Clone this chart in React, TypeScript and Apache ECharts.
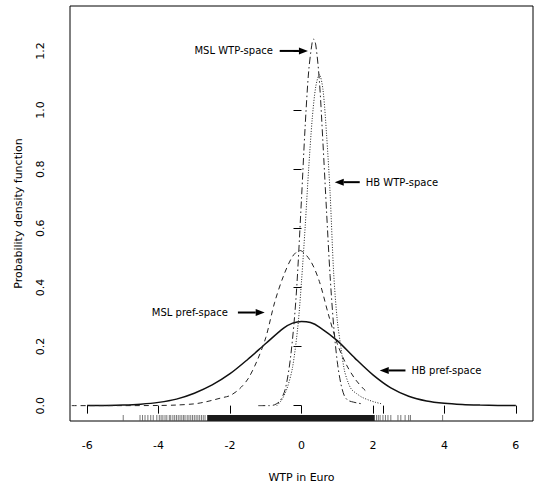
import React, { useEffect, useRef } from "react";
import * as echarts from "echarts";

// Axis ticks
const xTickValues = [-6, -4, -2, 0, 2, 4, 6];
const xExtraTick = [2.28];
const yTickValues = [0, 0.2, 0.4, 0.6, 0.8, 1.0, 1.2];
const xRange = [-6.48, 6.48];
const yRange = [-0.052, 1.352];

// Density curves [x, density]
const hbPrefSpace: number[][] = [
  [-6, 0.0003], [-5.5, 0.0008], [-5, 0.002], [-4.5, 0.005], [-4, 0.011], [-3.5, 0.022],
  [-3, 0.042], [-2.5, 0.07], [-2, 0.108], [-1.5, 0.157], [-1, 0.21], [-0.5, 0.262],
  [-0.25, 0.279], [0, 0.285], [0.25, 0.281], [0.5, 0.266], [1, 0.22], [1.5, 0.16],
  [2, 0.104], [2.5, 0.06], [3, 0.032], [3.5, 0.016], [4, 0.008], [4.5, 0.004],
  [5, 0.002], [5.5, 0.0008], [6, 0.0003],
];
const mslPrefSpace: number[][] = [
  [-6.43, 0], [-5, 0], [-4, 0.0005], [-3.5, 0.002], [-3, 0.006], [-2.75, 0.011],
  [-2.5, 0.018], [-2.25, 0.026], [-2, 0.034], [-1.75, 0.055], [-1.5, 0.09], [-1.25, 0.15],
  [-1, 0.23], [-0.75, 0.35], [-0.5, 0.44], [-0.25, 0.505], [-0.05, 0.525], [0.25, 0.49],
  [0.5, 0.42], [0.75, 0.31], [1, 0.21], [1.25, 0.14], [1.5, 0.09], [1.75, 0.055], [1.85, 0.045],
];
const mslWtpSpace: number[][] = [
  [-1.21, 0], [-0.9, 0], [-0.75, 0.003], [-0.6, 0.016], [-0.45, 0.058], [-0.3, 0.17],
  [-0.15, 0.37], [0, 0.7], [0.1, 0.94], [0.2, 1.13], [0.3, 1.23], [0.34, 1.24], [0.4, 1.22],
  [0.5, 1.1], [0.6, 0.89], [0.7, 0.66], [0.8, 0.44], [0.9, 0.27], [1.0, 0.15], [1.1, 0.075],
  [1.2, 0.033], [1.3, 0.018], [1.45, 0.012], [1.6, 0.008], [1.7, 0.006],
];
const hbWtpSpace: number[][] = [
  [-0.69, 0], [-0.55, 0.02], [-0.4, 0.06], [-0.25, 0.13], [-0.1, 0.27], [0, 0.42],
  [0.1, 0.6], [0.2, 0.8], [0.3, 0.97], [0.4, 1.08], [0.5, 1.12], [0.6, 1.07], [0.7, 0.92],
  [0.8, 0.72], [0.9, 0.45], [1.0, 0.29], [1.1, 0.2], [1.2, 0.12], [1.3, 0.08], [1.4, 0.055],
  [1.55, 0.04], [1.7, 0.028], [1.9, 0.018], [2.05, 0.012], [2.25, 0.006],
];

// Rug of observed WTP values
const rugSparse = [
  -4.99, -4.52, -4.45, -4.38, -4.3, -4.22, -4.15, -4.05, -3.98, -3.93, -3.88, -3.82, -3.77,
  -3.7, -3.66, -3.6, -3.55, -3.5, -3.45, -3.4, -3.35, -3.3, -3.26, -3.2, -3.15, -3.1, -3.05,
  -3.0, -2.95, -2.9, -2.85, -2.8, -2.75, -2.7, 2.1, 2.15, 2.2, 2.28, 2.35, 2.42, 2.5, 2.7,
  2.78, 2.9, 3.0, 3.05, 3.95,
];
const rugDenseBand = [[-2.64, 2.05]];

// Annotations (data coordinates)
const annotations = [
  { label: "MSL WTP-space", y: 1.2, textX: -0.8, from: -0.61, to: 0.18, side: "left" },
  { label: "HB WTP-space", y: 0.756, textX: 1.8, from: 1.63, to: 0.93, side: "right" },
  { label: "MSL pref-space", y: 0.315, textX: -2.06, from: -1.78, to: -1.03, side: "left" },
  { label: "HB pref-space", y: 0.119, textX: 3.08, from: 2.91, to: 2.19, side: "right" },
];

const FONT = '"DejaVu Sans", Verdana, sans-serif';

export default function App() {
  const ref = useRef<HTMLDivElement>(null);
  useEffect(() => {
    if (!ref.current) return;
    const chart = echarts.init(ref.current, undefined, { renderer: "svg" });
    const lineBase = {
      type: "line",
      showSymbol: false,
      smooth: 0.3,
      silent: true,
      clip: true,
    };
    chart.setOption({
      animation: false,
      backgroundColor: "#fff",
      grid: {
        left: 70, right: 1, top: 6, bottom: 67,
        show: true, borderColor: "#000", borderWidth: 1,
      },
      xAxis: {
        type: "value",
        min: xRange[0], max: xRange[1],
        name: "WTP in Euro",
        nameLocation: "middle",
        nameGap: 51,
        nameTextStyle: { fontFamily: FONT, fontSize: 11, color: "#000" },
        axisLine: { show: false },
        splitLine: { show: false },
        axisTick: {
          show: true, inside: false, length: 8,
          customValues: [...xTickValues, ...xExtraTick],
          lineStyle: { color: "#000", width: 1 },
        },
        axisLabel: {
          customValues: xTickValues,
          margin: 19,
          fontFamily: FONT, fontSize: 11, color: "#000",
          formatter: (v: number) => String(v),
        },
      },
      yAxis: {
        type: "value",
        min: yRange[0], max: yRange[1],
        name: "Probability density function",
        nameLocation: "middle",
        nameGap: 46,
        nameRotate: 90,
        nameTextStyle: { fontFamily: FONT, fontSize: 11, color: "#000" },
        axisLine: { show: false },
        splitLine: { show: false },
        axisTick: {
          show: true, inside: false, length: 8,
          customValues: yTickValues,
          lineStyle: { color: "#000", width: 1 },
        },
        axisLabel: {
          customValues: yTickValues,
          rotate: 90,
          margin: 24,
          fontFamily: FONT, fontSize: 11, color: "#000",
          formatter: (v: number) => v.toFixed(1),
        },
      },
      series: [
        { ...lineBase, name: "HB pref-space", data: hbPrefSpace,
          lineStyle: { color: "#111", width: 1.5, type: "solid" } },
        { ...lineBase, name: "MSL pref-space", data: mslPrefSpace,
          lineStyle: { color: "#222", width: 1, type: [5, 4] } },
        { ...lineBase, name: "MSL WTP-space", data: mslWtpSpace,
          lineStyle: { color: "#222", width: 1, type: [7, 3, 1.5, 3] } },
        { ...lineBase, name: "HB WTP-space", data: hbWtpSpace,
          lineStyle: { color: "#222", width: 1, type: [1, 1.6] } },
        {
          type: "custom", name: "rug", silent: true, clip: false,
          data: rugSparse.map((v) => [v, 0]),
          renderItem: (params: any, api: any) => {
            const p = api.coord([api.value(0), yRange[0]]);
            return {
              type: "line",
              shape: { x1: p[0], y1: p[1], x2: p[0], y2: p[1] - 6 },
              style: { stroke: "#555", lineWidth: 0.8 },
            };
          },
        },
        {
          type: "custom", name: "rugBand", silent: true, clip: false,
          data: rugDenseBand,
          renderItem: (params: any, api: any) => {
            const a = api.coord([api.value(0), yRange[0]]);
            const b = api.coord([api.value(1), yRange[0]]);
            return {
              type: "rect",
              shape: { x: a[0], y: a[1] - 6, width: b[0] - a[0], height: 6 },
              style: { fill: "#1a1a1a" },
            };
          },
        },
      ],
    });

    const graphics: any[] = [];
    annotations.forEach((an) => {
      const t = chart.convertToPixel({ xAxisIndex: 0, yAxisIndex: 0 }, [an.textX, an.y]) as number[];
      const f = chart.convertToPixel({ xAxisIndex: 0, yAxisIndex: 0 }, [an.from, an.y]) as number[];
      const to = chart.convertToPixel({ xAxisIndex: 0, yAxisIndex: 0 }, [an.to, an.y]) as number[];
      graphics.push({
        type: "text",
        x: t[0], y: t[1],
        style: {
          text: an.label,
          font: `10px ${FONT}`,
          fill: "#000",
          align: an.side === "left" ? "right" : "left",
          verticalAlign: "middle",
          textAlign: an.side === "left" ? "right" : "left",
          textVerticalAlign: "middle",
        },
        silent: true,
      });
      const dir = to[0] > f[0] ? 1 : -1;
      const headLen = 9;
      const baseX = to[0] - dir * headLen;
      graphics.push({
        type: "line",
        shape: { x1: f[0], y1: f[1], x2: baseX, y2: to[1] },
        style: { stroke: "#000", lineWidth: 2 },
        silent: true,
      });
      graphics.push({
        type: "polygon",
        shape: { points: [[to[0], to[1]], [baseX, to[1] - 3.5], [baseX, to[1] + 3.5]] },
        style: { fill: "#000" },
        silent: true,
      });
    });
    chart.setOption({ graphic: graphics });

    return () => chart.dispose();
  }, []);
  return (
    <div
      ref={ref}
      style={{ position: "fixed", left: 0, top: 0, width: 534, height: 488, background: "#fff" }}
    />
  );
}
